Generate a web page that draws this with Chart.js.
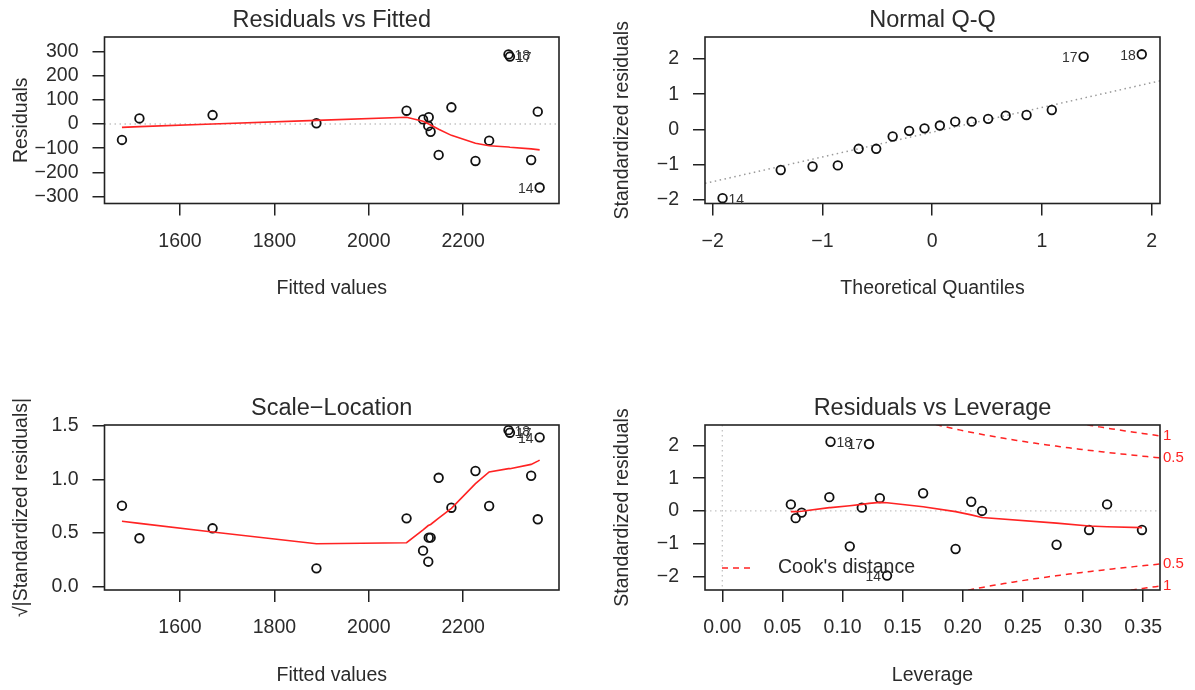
<!DOCTYPE html>
<html>
<head>
<meta charset="utf-8">
<title>lm diagnostics</title>
<script src="https://cdn.jsdelivr.net/npm/chart.js@4.4.1/dist/chart.umd.min.js"></script>
<style>
  html, body { margin: 0; padding: 0; background: #fff; }
  #wrap { position: relative; width: 1195px; height: 690px; }
  #wrap canvas { position: absolute; left: 0; top: 0; }
</style>
</head>
<body>
<div id="wrap">
  <canvas id="rf" width="1195" height="690"></canvas>
  <canvas id="qq" width="1195" height="690"></canvas>
  <canvas id="sl" width="1195" height="690"></canvas>
  <canvas id="rl" width="1195" height="690"></canvas>
</div>
<script>
// one entry per observation, sorted by fitted value
var obsIds        = ['', '', '', '', '', '', '', '', '', '', '', '', '', '18', '17', '', '', '14'];
var fittedValues  = [1477, 1514, 1669, 1889, 2080, 2115, 2126, 2127, 2131, 2148, 2175, 2226, 2255, 2296, 2299, 2344, 2358, 2362];
var residuals     = [-66, 23, 37, 3, 55, 19, -8, 28, -32, -128, 69, -153, -69, 288, 279, -149, 51, -263];
var sqrtAbsStdRes = [0.755, 0.451, 0.544, 0.171, 0.637, 0.336, 0.233, 0.457, 0.457, 1.015, 0.736, 1.078, 0.752, 1.459, 1.435, 1.034, 0.628, 1.392];
var leverage      = [0.349, 0.320, 0.207, 0.216, 0.089, 0.116, 0.066, 0.057, 0.061, 0.278, 0.167, 0.194, 0.305, 0.090, 0.122, 0.106, 0.131, 0.137];
var stdResiduals  = [-0.58, 0.20, 0.28, 0.00, 0.42, 0.10, -0.05, 0.20, -0.22, -1.03, 0.54, -1.16, -0.58, 2.11, 2.04, -1.08, 0.39, -1.97];

// red smoothers (evaluated at the fitted values)
var rfSmooth = [-14, -11, 0, 15, 28, 11, 1, 0, -4, -22, -47, -80, -90, -95, -96, -103, -106, -107];
var slSmooth = [0.61, 0.59, 0.51, 0.40, 0.41, 0.53, 0.57, 0.57, 0.58, 0.64, 0.73, 0.96, 1.07, 1.10, 1.10, 1.14, 1.17, 1.18];
var rlSmoothX = [0.057, 0.061, 0.066, 0.089, 0.090, 0.106, 0.116, 0.122, 0.131, 0.137, 0.167, 0.194, 0.207, 0.216, 0.278, 0.305, 0.320, 0.349];
var rlSmoothY = [-0.02, -0.02, -0.01, 0.10, 0.10, 0.16, 0.20, 0.23, 0.26, 0.25, 0.13, -0.02, -0.12, -0.20, -0.37, -0.46, -0.48, -0.51];

// normal Q-Q
var qqIds = ['14', '', '', '', '', '', '', '', '', '', '', '', '', '', '', '', '17', '18'];
var theoQuantiles = [-1.91, -1.38, -1.09, -0.86, -0.67, -0.51, -0.36, -0.21, -0.07, 0.07, 0.21, 0.36, 0.51, 0.67, 0.86, 1.09, 1.38, 1.91];
var qqStdResid = [-1.95, -1.15, -1.05, -1.02, -0.55, -0.55, -0.20, -0.04, 0.03, 0.11, 0.22, 0.22, 0.30, 0.39, 0.41, 0.55, 2.06, 2.13];
var qqLineX = [-2.07, 2.08];
var qqLineY = [-1.53, 1.38];

// Cook's distance contours
var cookLevels = [0.5, 1];
var nParams = 3;

// tick labels
var fittedTicks = [1600, 1800, 2000, 2200];
var residTicks = [-300, -200, -100, 0, 100, 200, 300];
var quantTicks = [-2, -1, 0, 1, 2];
var stdResTicks = [-2, -1, 0, 1, 2];
var sqrtTicks = [0, 0.5, 1, 1.5];
var leverageTicks = [0, 0.05, 0.1, 0.15, 0.2, 0.25, 0.3, 0.35];

var FONT = '"Liberation Sans", Arial, Helvetica, sans-serif';
var TEXT = '#2b2b2b';
var RED = 'rgb(255,35,35)';
var W = 1195, H = 690;
var AXIS_SIZE = 19.5, AXIS_LH = AXIS_SIZE * 1.2;
var X_AXIS_HEIGHT = 97.2;

var boxes = {
  rf: {left: 104.5, right: 559, top: 37, bottom: 203.5, yTitleX: 22},
  qq: {left: 705, right: 1160, top: 37, bottom: 203.5, yTitleX: 623},
  sl: {left: 104.5, right: 559, top: 425, bottom: 590, yTitleX: 22},
  rl: {left: 705, right: 1160, top: 425, bottom: 590, yTitleX: 623}
};

function xy(xs, ys) {
  return xs.map(function (v, i) { return {x: v, y: ys[i]}; });
}

function fmt(digits) {
  return function (v) {
    var s = Math.abs(v).toFixed(digits);
    return v < 0 ? '\u2212' + s : s;
  };
}

function fixedTicks(list) {
  return function (scale) {
    scale.ticks = list.map(function (v) { return {value: v}; });
  };
}

function axis(horizontal, box, min, max, ticks, format, title) {
  return {
    type: 'linear',
    position: horizontal ? 'bottom' : 'left',
    bounds: 'data',
    min: min,
    max: max,
    afterBuildTicks: fixedTicks(ticks),
    afterFit: function (scale) {
      if (horizontal) scale.height = X_AXIS_HEIGHT;
      else scale.width = box.left - (box.yTitleX - AXIS_LH / 2);
    },
    ticks: {callback: format, padding: 14, color: TEXT, autoSkip: false, maxRotation: 0, minRotation: 0,
            font: {family: FONT, size: AXIS_SIZE}},
    grid: {drawOnChartArea: false, drawTicks: true, tickLength: 12, color: '#222', lineWidth: 1.5},
    border: {display: false},
    title: {display: true, text: title, color: TEXT, padding: 0, font: {family: FONT, size: AXIS_SIZE}}
  };
}

function pointSet(data) {
  return {data: data, showLine: false, pointRadius: 4.3, pointBorderWidth: 1.8,
          borderColor: '#111', backgroundColor: 'rgba(0,0,0,0)', clip: false};
}

function lineSet(data, color, width, dash) {
  return {data: data, showLine: true, pointRadius: 0, borderColor: color, borderWidth: width,
          borderDash: dash || [], fill: false, clip: 0};
}

function labelsFrom(ids, xs, ys) {
  var out = [];
  ids.forEach(function (id, i) { if (id) out.push({text: id, x: xs[i], y: ys[i]}); });
  return out;
}

var rPanel = {
  id: 'rpanel',
  beforeDatasetsDraw: function (chart, args, o) {
    var ctx = chart.ctx, a = chart.chartArea, sx = chart.scales.x, sy = chart.scales.y;
    ctx.save();
    ctx.beginPath();
    ctx.rect(a.left, a.top, a.right - a.left, a.bottom - a.top);
    ctx.clip();
    ctx.strokeStyle = '#c4c4c4';
    ctx.lineWidth = 1.3;
    ctx.setLineDash([1.5, 3.5]);
    (o.hRefs || []).forEach(function (v) {
      var p = sy.getPixelForValue(v);
      ctx.beginPath(); ctx.moveTo(a.left, p); ctx.lineTo(a.right, p); ctx.stroke();
    });
    (o.vRefs || []).forEach(function (v) {
      var p = sx.getPixelForValue(v);
      ctx.beginPath(); ctx.moveTo(p, a.top); ctx.lineTo(p, a.bottom); ctx.stroke();
    });
    ctx.restore();
  },
  afterDatasetsDraw: function (chart, args, o) {
    var ctx = chart.ctx, a = chart.chartArea, sx = chart.scales.x, sy = chart.scales.y;
    ctx.save();
    ctx.setLineDash([]);
    ctx.strokeStyle = '#222';
    ctx.lineWidth = 1.6;
    ctx.strokeRect(a.left, a.top, a.right - a.left, a.bottom - a.top);

    ctx.fillStyle = TEXT;
    ctx.font = '23.5px ' + FONT;
    ctx.textAlign = 'center';
    ctx.textBaseline = 'alphabetic';
    ctx.fillText(o.title, (a.left + a.right) / 2, a.top - 10.3);

    // id labels, placed left or right as plot.lm does
    var labs = o.pointLabels || [];
    if (labs.length) {
      var px = labs.map(function (l) { return sx.getPixelForValue(l.x); });
      var mid = (Math.min.apply(null, px) + Math.max.apply(null, px)) / 2;
      ctx.font = '14px ' + FONT;
      ctx.fillStyle = '#333';
      ctx.textBaseline = 'middle';
      labs.forEach(function (l, i) {
        var py = sy.getPixelForValue(l.y) + 1.5;
        if (px[i] > mid) { ctx.textAlign = 'right'; ctx.fillText(l.text, px[i] - 6, py); }
        else { ctx.textAlign = 'left'; ctx.fillText(l.text, px[i] + 6, py); }
      });
    }

    if (o.cook) {
      var hx = sx.max;
      ctx.font = '15px ' + FONT;
      ctx.fillStyle = RED;
      ctx.textAlign = 'left';
      ctx.textBaseline = 'middle';
      cookLevels.forEach(function (lev) {
        var r = Math.sqrt(lev * nParams * (1 - hx) / hx);
        ctx.fillText(String(lev), a.right + 3, sy.getPixelForValue(r));
        ctx.fillText(String(lev), a.right + 3, sy.getPixelForValue(-r));
      });
      var ly = a.bottom - 22;
      ctx.strokeStyle = RED;
      ctx.lineWidth = 1.5;
      ctx.setLineDash([6, 5]);
      ctx.beginPath(); ctx.moveTo(a.left + 17, ly); ctx.lineTo(a.left + 50, ly); ctx.stroke();
      ctx.setLineDash([]);
      ctx.fillStyle = TEXT;
      ctx.font = AXIS_SIZE + 'px ' + FONT;
      ctx.fillText("Cook's distance", a.left + 73, ly);
    }
    ctx.restore();
  }
};

function panel(id, title, datasets, xAxis, yAxis, extra) {
  var box = boxes[id];
  var opts = {title: title};
  for (var k in extra) opts[k] = extra[k];
  return new Chart(document.getElementById(id), {
    type: 'scatter',
    data: {datasets: datasets},
    options: {
      responsive: false,
      animation: false,
      events: [],
      layout: {padding: {left: box.yTitleX - AXIS_LH / 2, right: W - box.right,
                         top: box.top, bottom: H - box.bottom - X_AXIS_HEIGHT}},
      scales: {x: xAxis, y: yAxis},
      plugins: {legend: {display: false}, tooltip: {enabled: false}, rpanel: opts}
    },
    plugins: [rPanel]
  });
}

function cookCurve(level, sign, hTo) {
  var hFrom = Math.min(Math.min.apply(null, leverage), Math.max.apply(null, leverage) / 100);
  var pts = [];
  for (var i = 0; i <= 100; i++) {
    var h = hFrom + (hTo - hFrom) * i / 100;
    pts.push({x: h, y: sign * Math.sqrt(level * nParams * (1 - h) / h)});
  }
  return pts;
}

// Residuals vs Fitted
panel('rf', 'Residuals vs Fitted',
  [lineSet(xy(fittedValues, rfSmooth), RED, 1.6), pointSet(xy(fittedValues, residuals))],
  axis(true, boxes.rf, 1440, 2403, fittedTicks, fmt(0), 'Fitted values'),
  axis(false, boxes.rf, -329, 360, residTicks, fmt(0), 'Residuals'),
  {hRefs: [0], pointLabels: labelsFrom(obsIds, fittedValues, residuals)});

// Normal Q-Q
panel('qq', 'Normal Q-Q',
  [pointSet(xy(theoQuantiles, qqStdResid)), lineSet(xy(qqLineX, qqLineY), '#9a9a9a', 1.5, [1.5, 3.5])],
  axis(true, boxes.qq, -2.07, 2.076, quantTicks, fmt(0), 'Theoretical Quantiles'),
  axis(false, boxes.qq, -2.10, 2.62, stdResTicks, fmt(0), 'Standardized residuals'),
  {pointLabels: labelsFrom(qqIds, theoQuantiles, qqStdResid)});

// Scale-Location
panel('sl', 'Scale\u2212Location',
  [lineSet(xy(fittedValues, slSmooth), RED, 1.6), pointSet(xy(fittedValues, sqrtAbsStdRes))],
  axis(true, boxes.sl, 1440, 2403, fittedTicks, fmt(0), 'Fitted values'),
  axis(false, boxes.sl, -0.031, 1.507, sqrtTicks, fmt(1), '\u221A|Standardized residuals|'),
  {pointLabels: labelsFrom(obsIds, fittedValues, sqrtAbsStdRes)});

// Residuals vs Leverage
var levMax = 0.364;
var rlSets = [lineSet(xy(rlSmoothX, rlSmoothY), RED, 1.6), pointSet(xy(leverage, stdResiduals))];
cookLevels.forEach(function (lev) {
  rlSets.push(lineSet(cookCurve(lev, 1, levMax), RED, 1.5, [6, 5]));
  rlSets.push(lineSet(cookCurve(lev, -1, levMax), RED, 1.5, [6, 5]));
});
panel('rl', 'Residuals vs Leverage', rlSets,
  axis(true, boxes.rl, -0.0144, levMax, leverageTicks, fmt(2), 'Leverage'),
  axis(false, boxes.rl, -2.41, 2.62, stdResTicks, fmt(0), 'Standardized residuals'),
  {hRefs: [0], vRefs: [0], cook: true, pointLabels: labelsFrom(obsIds, leverage, stdResiduals)});
</script>
</body>
</html>
